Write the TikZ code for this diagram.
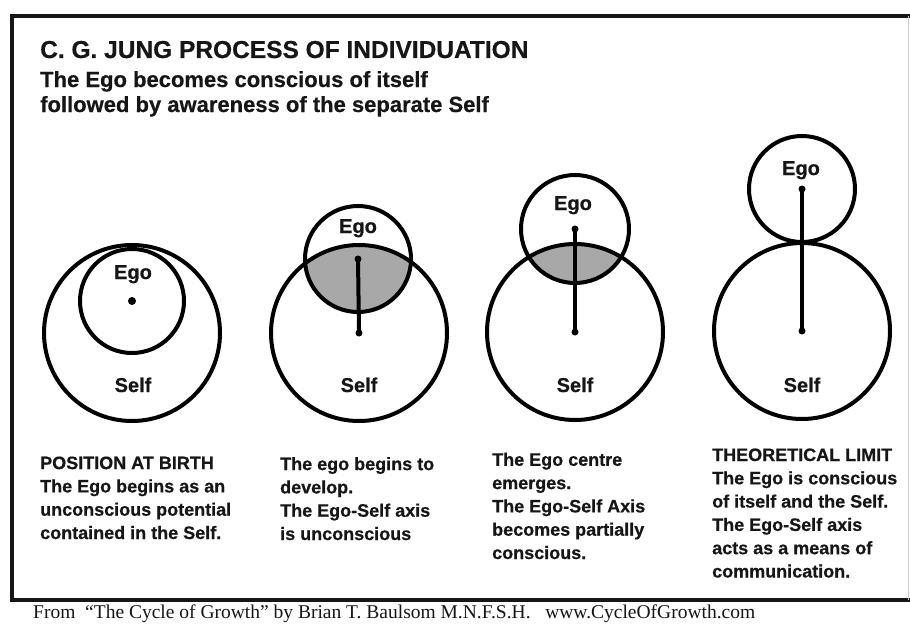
\documentclass[tikz,border=0pt]{standalone}
\usepackage{fontspec}
\setmainfont{Liberation Sans}[BoldFeatures={FakeBold=0.5}]
\newfontfamily\footserif{Liberation Serif}
\definecolor{lensgray}{RGB}{168,168,168}
\definecolor{ink}{RGB}{22,22,22}
\begin{document}
\begin{tikzpicture}[x=1pt,y=-1pt,
  ring/.style={circle, draw=black, line width=4pt, inner sep=0pt},
  axisline/.style={line width=4pt, line cap=round},
  lbl/.style={anchor=base, inner sep=0pt, text=ink, font=\fontsize{20}{24}\selectfont\bfseries},
  caption/.style={anchor=base west, align=left, inner sep=0pt, text=ink, font=\fontsize{18}{23.3}\selectfont\bfseries},
  frame/.style={line width=3.5pt, draw=ink}
]
\useasboundingbox (0,0) rectangle (910,626);
\fill[white] (0,0) rectangle (910,626);

% frame
\draw[frame] (910,16) -- (12,16) -- (12,600) -- (910,600);
\draw[gray!40, line width=1pt] (908,16) -- (908,600);

% title
\node[anchor=base west, inner sep=0pt, text=ink, font=\fontsize{24.5}{30}\selectfont\bfseries] (title) at (40,58) {C. G. JUNG PROCESS OF INDIVIDUATION};
\node[anchor=base west, inner sep=0pt, text=ink, font=\fontsize{22}{25}\selectfont\bfseries] (sub1) at (40,87) {The Ego becomes conscious of itself};
\node[anchor=base west, inner sep=0pt, text=ink, font=\fontsize{22}{25}\selectfont\bfseries] (sub2) at (40,112) {followed by awareness of the separate Self};

% lens fills
\begin{scope}
  \clip (358,259) circle[radius=53];
  \fill[lensgray] (359,333) circle[radius=88];
\end{scope}
\begin{scope}
  \clip (574,229) circle[radius=54];
  \fill[lensgray] (575,332) circle[radius=88];
\end{scope}

% stage 1
\node[ring, minimum size=176pt] (s1) at (132,333) {};
\node[ring, minimum size=104pt] (e1) at (132,301) {};
\fill[black] (e1.center) circle[radius=4];
% stage 2
\node[ring, minimum size=176pt] (s2) at (359,333) {};
\node[ring, minimum size=106pt] (e2) at (358,259) {};
\draw[axisline] (e2.center) -- (s2.center);
% stage 3
\node[ring, minimum size=176pt] (s3) at (575,332) {};
\node[ring, minimum size=108pt] (e3) at (575,229) {};
\draw[axisline] (e3.center) -- (s3.center);
% stage 4
\node[ring, minimum size=176pt] (s4) at (802,331) {};
\node[ring, minimum size=106pt] (e4) at (802,189) {};
\draw[axisline] (e4.center) -- (s4.center);

\foreach \n in {e2,e3,e4,s2,s3,s4}{\fill[black] (\n.center) circle[radius=3.5];}

% labels
\node[lbl] (le1) at (133,279) {Ego};
\node[lbl] (le2) at (358,233) {Ego};
\node[lbl] (le3) at (573,210) {Ego};
\node[lbl] (le4) at (801,175) {Ego};
\node[lbl] (ls1) at (133,392) {Self};
\node[lbl] (ls2) at (359,392) {Self};
\node[lbl] (ls3) at (575,392) {Self};
\node[lbl] (ls4) at (802,392) {Self};

% captions (anchored at the baseline of the last line)
\node[caption] (c1) at (40,539) {POSITION AT BIRTH\\The Ego begins as an\\unconscious potential\\contained in the Self.};
\node[caption] (c2) at (280,540) {The ego begins to\\develop.\\The Ego-Self axis\\is unconscious};
\node[caption] (c3) at (492,559) {The Ego centre\\emerges.\\The Ego-Self Axis\\becomes partially\\conscious.};
\node[caption] (c4) at (712,577.5) {THEORETICAL LIMIT\\The Ego is conscious\\of itself and the Self.\\The Ego-Self axis\\acts as a means of\\communication.};

% footer
\node[anchor=base west, inner sep=0pt, text=ink, font=\footserif\fontsize{19.5}{22}\selectfont] (foot) at (33,618) {From\ \ “The Cycle of Growth” by Brian T. Baulsom M.N.F.S.H.\ \ \ www.CycleOfGrowth.com};
\end{tikzpicture}
\end{document}
